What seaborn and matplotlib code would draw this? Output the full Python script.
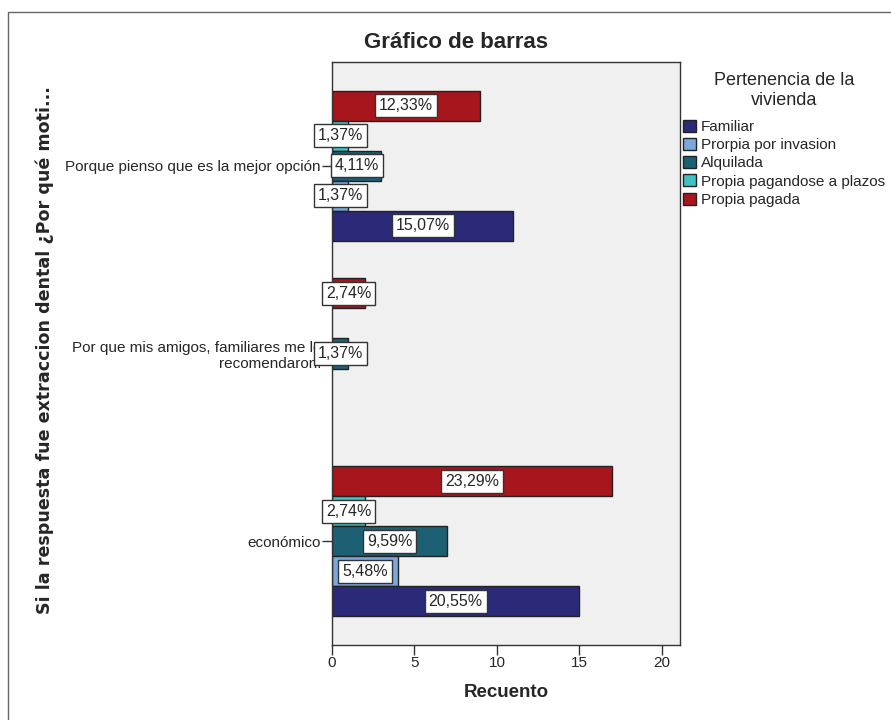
import matplotlib
matplotlib.use("Agg")
import matplotlib.pyplot as plt
from matplotlib.patches import Patch, Rectangle
import pandas as pd
import seaborn as sns

# Categories (top to bottom) and tenure groups
motivos = [
    "Porque pienso que es la mejor opción",
    "Por que mis amigos, familiares me lo\nrecomendaron.",
    "económico",
]
viviendas = [
    "Familiar",
    "Prorpia por invasion",
    "Alquilada",
    "Propia pagandose a plazos",
    "Propia pagada",
]
colores = ["#2b2a78", "#7ba8dc", "#1d5f73", "#3fc2c1", "#a6161c"]

# Counts per tenure group, one value per motive
familiar = [11, 0, 15]
invasion = [1, 0, 4]
alquilada = [3, 1, 7]
plazos = [1, 0, 2]
pagada = [9, 2, 17]

series = [familiar, invasion, alquilada, plazos, pagada]
total = sum(sum(s) for s in series)

rows = []
for viv, vals in zip(viviendas, series):
    for mot, v in zip(motivos, vals):
        if v > 0:
            rows.append({"Motivo": mot, "Vivienda": viv, "Recuento": v})
df = pd.DataFrame(rows)

sns.set_style("white")
plt.rcParams["font.family"] = ["Liberation Sans", "DejaVu Sans"]

fig = plt.figure(figsize=(8.91, 7.2), dpi=100)
ax = fig.add_axes([332 / 891, 1 - 645 / 720, 348 / 891, 583 / 720])
ax.set_facecolor("#f0f0f0")

palette = dict(zip(viviendas, colores))
sns.barplot(
    data=df, x="Recuento", y="Motivo", hue="Vivienda",
    order=motivos, hue_order=viviendas[::-1], palette=palette,
    orient="h", width=0.8, edgecolor="#222222", linewidth=1.0,
    saturation=1, legend=False, ax=ax,
)

# Percentage labels in white boxes at each bar's centre
for p in ax.patches:
    w = p.get_width()
    if w <= 0:
        continue
    pct = f"{w / total * 100:.2f}%".replace(".", ",")
    ax.text(p.get_x() + w / 2, p.get_y() + p.get_height() / 2, pct,
            ha="center", va="center", fontsize=11.5, zorder=6,
            bbox=dict(boxstyle="square,pad=0.25", fc="white", ec="#333333", lw=1))

ax.set_xlim(0, 21.1)
ax.set_ylim(2.553, -0.553)
ax.set_xticks([0, 5, 10, 15, 20])
ax.tick_params(axis="x", bottom=True, direction="out", length=7, width=1,
               color="#333333", labelsize=11, pad=1)
ax.tick_params(axis="y", left=True, direction="out", length=7, width=1,
               color="#333333", labelsize=11, pad=1)
for lab in ax.get_yticklabels():
    lab.set_ha("right")
    lab.set_multialignment("right")
for s in ax.spines.values():
    s.set_visible(True)
    s.set_color("#333333")
    s.set_linewidth(1)

ax.set_xlabel("Recuento", fontsize=13.5, fontweight="bold", labelpad=10)
ax.set_ylabel("")
fig.text(45 / 891, 1 - 350 / 720,
         "Si la respuesta fue extraccion dental ¿Por qué moti...",
         rotation=90, ha="center", va="center", fontsize=12.6,
         fontweight="bold", family="DejaVu Sans")
fig.text(456 / 891, 1 - 43 / 720, "Gráfico de barras",
         ha="center", va="center", fontsize=16, fontweight="bold")

handles = [Patch(facecolor=c, edgecolor="#222222", lw=1) for c in colores]
leg = fig.legend(handles, viviendas, title="Pertenencia de la\nvivienda",
                 loc="upper left", bbox_to_anchor=(683 / 891, 1 - 72 / 720),
                 frameon=False, fontsize=11, title_fontsize=13,
                 handlelength=0.85, handleheight=0.85, handletextpad=0.3,
                 labelspacing=0.25, borderaxespad=0, borderpad=0)
leg._legend_box.align = "center"
leg._legend_box.sep = 8
leg.get_title().set_linespacing(1.2)
leg.get_title().set_multialignment("center")

# Outer chart frame
fig.patches.append(Rectangle((8 / 891, -0.05), 1.2, 1 - 12 / 720 + 0.05,
                             transform=fig.transFigure, fill=False,
                             ec="#666666", lw=1))

fig.savefig("out.png", dpi=100, facecolor="white")
